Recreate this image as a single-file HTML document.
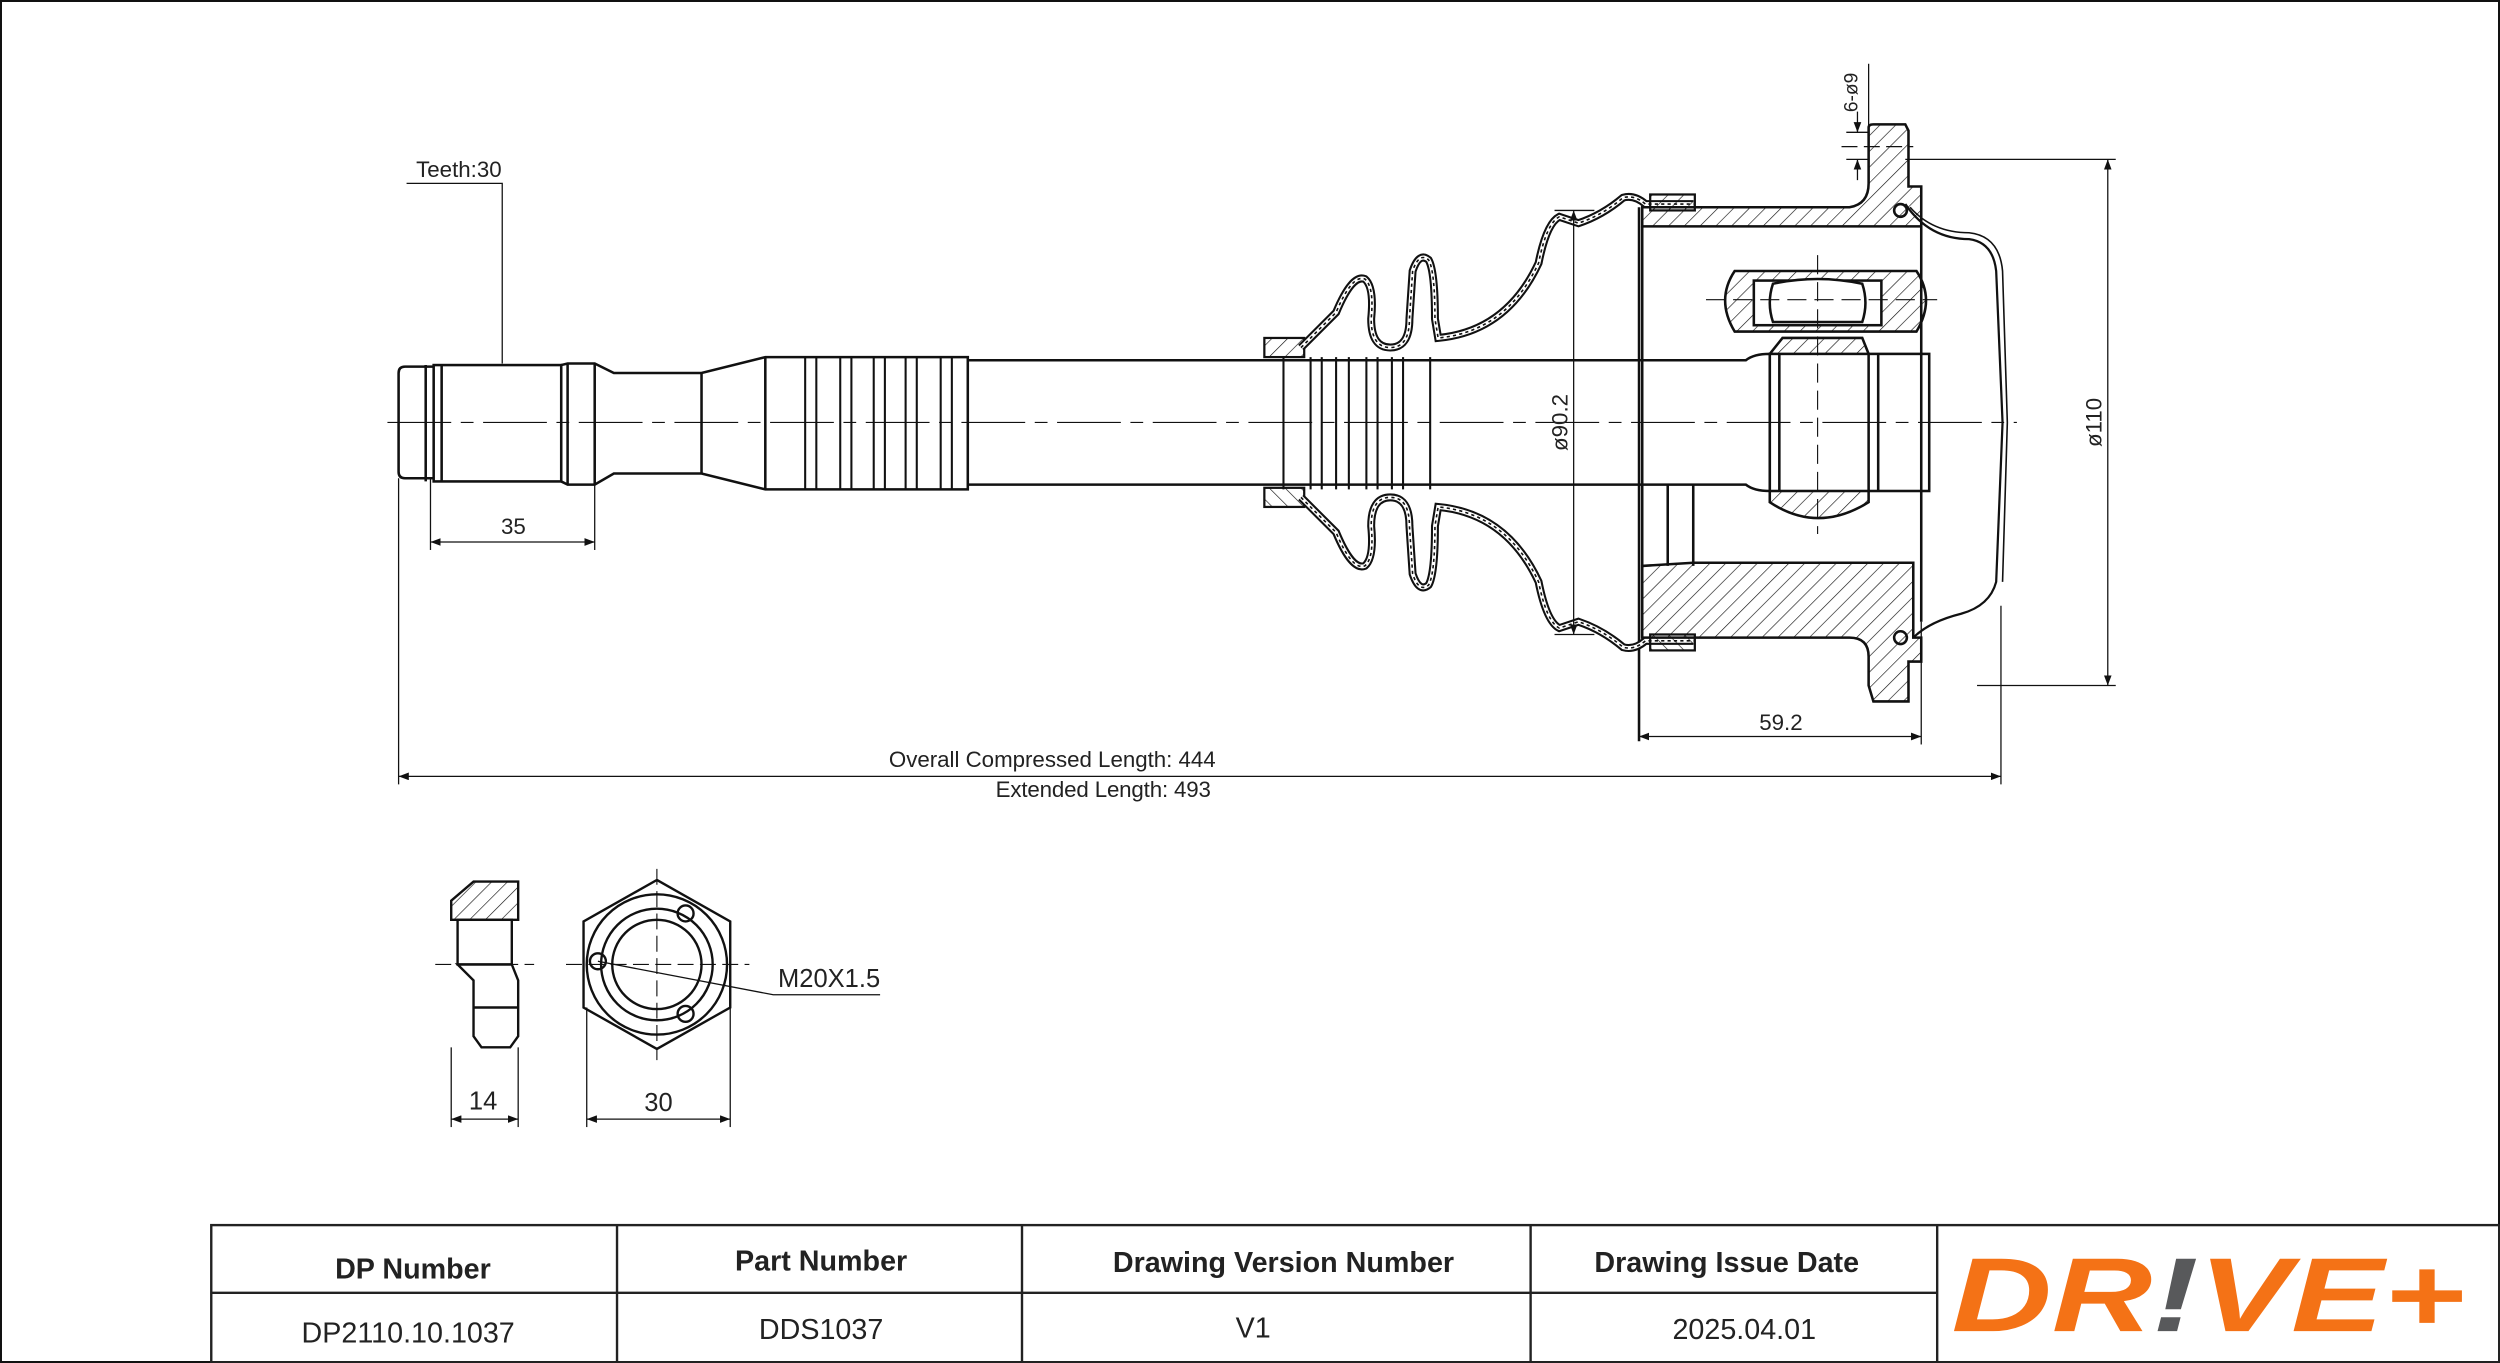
<!DOCTYPE html>
<html><head><meta charset="utf-8"><style>
html,body{margin:0;padding:0;background:#fff;}
svg{display:block;}
text{font-family:"Liberation Sans",sans-serif;fill:#222;}
</style></head><body>
<svg width="2500" height="1363" viewBox="0 0 1568 855" preserveAspectRatio="none" xmlns="http://www.w3.org/2000/svg">
<defs>
<pattern id="h" patternUnits="userSpaceOnUse" width="7" height="7" patternTransform="rotate(45)"><line x1="0" y1="0" x2="0" y2="7" stroke="#111" stroke-width="0.8"/></pattern>
<marker id="a" markerWidth="8" markerHeight="6" refX="8" refY="3" orient="auto-start-reverse"><path d="M0,0 L8,3 L0,6z" fill="#111"/></marker>
</defs>
<rect x="0.5" y="0.5" width="1567" height="854" fill="none" stroke="#111" stroke-width="1.5"/>

<g fill="none" stroke="#111" stroke-width="1.6">
<line x1="243" y1="265" x2="1265" y2="265" stroke-width="0.7" stroke-dasharray="40,6,8,6"/>
<path d="M272,230 L254,230 Q250,230 250,234 L250,296 Q250,300 254,300 L272,300"/>
<rect x="272" y="229" width="80" height="73"/>
<line x1="267" y1="229" x2="267" y2="302"/><line x1="277" y1="229" x2="277" y2="302"/>
<path d="M352,229 L356,228 L373,228 L385,234 L440,234 L480,224 L607,224 L607,307 L480,307 L440,297 L385,297 L373,304 L356,304 L352,302"/>
<line x1="356" y1="228" x2="356" y2="304"/><line x1="373" y1="228" x2="373" y2="304"/>
<line x1="440" y1="234" x2="440" y2="297"/><line x1="480" y1="224" x2="480" y2="307"/>
<g stroke-width="1.3">
<line x1="505" y1="224" x2="505" y2="307"/><line x1="512" y1="224" x2="512" y2="307"/>
<line x1="527" y1="224" x2="527" y2="307"/><line x1="534" y1="224" x2="534" y2="307"/>
<line x1="548" y1="224" x2="548" y2="307"/><line x1="555" y1="224" x2="555" y2="307"/>
<line x1="568" y1="224" x2="568" y2="307"/><line x1="575" y1="224" x2="575" y2="307"/>
<line x1="590" y1="224" x2="590" y2="307"/><line x1="597" y1="224" x2="597" y2="307"/>
</g>
<path d="M607,226 L1095,226 Q1100,222 1110,222 L1110,308 Q1100,308 1095,304 L607,304"/>
<g stroke-width="1.3">
<line x1="805" y1="224" x2="805" y2="307"/><line x1="822" y1="224" x2="822" y2="307"/><line x1="829" y1="224" x2="829" y2="307"/>
<line x1="838" y1="224" x2="838" y2="307"/><line x1="846" y1="224" x2="846" y2="307"/>
<line x1="857" y1="224" x2="857" y2="307"/><line x1="864" y1="224" x2="864" y2="307"/>
<line x1="873" y1="224" x2="873" y2="307"/><line x1="880" y1="224" x2="880" y2="307"/>
<line x1="897" y1="224" x2="897" y2="307"/>
</g>
<rect x="1110" y="222" width="100" height="86"/>
<line x1="1116" y1="222" x2="1116" y2="308"/><line x1="1172" y1="222" x2="1172" y2="308"/><line x1="1178" y1="222" x2="1178" y2="308"/>
<path d="M1110,308 L1110,315 Q1140,335 1172,315 L1172,308" fill="url(#h)"/>
<path d="M1110,222 L1118,212 L1168,212 L1172,222" fill="url(#h)"/>
<path d="M1088,170 L1202,170 Q1214,188 1202,208 L1088,208 Q1076,188 1088,170Z" fill="url(#h)"/>
<rect x="1100" y="176" width="80" height="28" fill="#fff"/>
<path d="M1112,178 Q1140,172 1168,178 Q1172,190 1168,202 L1112,202 Q1108,190 1112,178Z" fill="#fff"/>
<line x1="1140" y1="160" x2="1140" y2="335" stroke-width="0.7" stroke-dasharray="12,5"/>
<line x1="1070" y1="188" x2="1215" y2="188" stroke-width="0.7" stroke-dasharray="12,5"/>
<path d="M1030,130 L1160,130 Q1172,128 1172,115 L1172,80 Q1172,78 1175,78 L1195,78 L1197,82 L1197,117 L1205,117 L1205,142 L1030,142Z" fill="url(#h)"/>
<path d="M1030,355 L1062,353 L1200,353 L1200,400 L1205,400 L1205,415 L1197,415 L1197,440 L1175,440 L1172,430 L1172,412 Q1172,400 1160,400 L1030,400Z" fill="url(#h)"/>
<line x1="1028" y1="130" x2="1028" y2="465"/>
<line x1="1030" y1="142" x2="1030" y2="400"/>
<line x1="1046" y1="304" x2="1046" y2="355"/><line x1="1062" y1="304" x2="1062" y2="355"/>
<line x1="1205" y1="142" x2="1205" y2="390"/>
<path d="M1195,128 Q1210,150 1235,150 Q1250,152 1252,170 L1256,265 L1252,365 Q1248,380 1230,385 Q1210,390 1200,400" stroke-width="1.4"/>
<path d="M1198,130 Q1212,146 1235,146 Q1254,148 1256,170 L1259,265 L1256,365" stroke-width="1"/>
<circle cx="1192" cy="132" r="4"/><circle cx="1192" cy="400" r="4"/>
<g id="boot">
<rect x="793" y="212" width="25" height="12" fill="url(#h)" stroke-width="1.4"/>
<path id="bp" d="M816,218 L838,196 Q848,172 856,175 Q862,180 860,200 Q860,218 872,218 Q884,218 884,200 L886,170 Q890,158 896,163 Q900,170 900,200 L902,212 Q945,208 965,165 Q970,140 978,136 L990,140 Q1005,135 1018,124 Q1025,122 1032,128 L1062,128" stroke-width="5"/>
<path d="M816,218 L838,196 Q848,172 856,175 Q862,180 860,200 Q860,218 872,218 Q884,218 884,200 L886,170 Q890,158 896,163 Q900,170 900,200 L902,212 Q945,208 965,165 Q970,140 978,136 L990,140 Q1005,135 1018,124 Q1025,122 1032,128 L1062,128" stroke="#fff" stroke-width="2.4"/>
<path d="M816,218 L838,196 Q848,172 856,175 Q862,180 860,200 Q860,218 872,218 Q884,218 884,200 L886,170 Q890,158 896,163 Q900,170 900,200 L902,212 Q945,208 965,165 Q970,140 978,136 L990,140 Q1005,135 1018,124 Q1025,122 1032,128 L1062,128" stroke-width="1" stroke-dasharray="2,2"/>
<rect x="1035" y="122" width="28" height="10" fill="url(#h)" stroke-width="1.4"/>
</g>
<use href="#boot" transform="translate(0,530) scale(1,-1)"/>
<g stroke-width="0.8">
<polyline points="255,115 315,115 315,228"/>
<line x1="270" y1="300" x2="270" y2="345"/><line x1="373" y1="304" x2="373" y2="345"/>
<line x1="270" y1="340" x2="373" y2="340" marker-start="url(#a)" marker-end="url(#a)"/>
<line x1="250" y1="300" x2="250" y2="492"/><line x1="1255" y1="380" x2="1255" y2="492"/>
<line x1="250" y1="487" x2="1255" y2="487" marker-start="url(#a)" marker-end="url(#a)"/>
<line x1="1205" y1="390" x2="1205" y2="467"/>
<line x1="1028" y1="462" x2="1205" y2="462" marker-start="url(#a)" marker-end="url(#a)"/>
<line x1="987" y1="132" x2="987" y2="398" marker-start="url(#a)" marker-end="url(#a)"/>
<line x1="975" y1="132" x2="1000" y2="132"/><line x1="975" y1="398" x2="1000" y2="398"/>
<line x1="1195" y1="100" x2="1327" y2="100"/><line x1="1240" y1="430" x2="1327" y2="430"/>
<line x1="1322" y1="100" x2="1322" y2="430" marker-start="url(#a)" marker-end="url(#a)"/>
<line x1="1172" y1="40" x2="1172" y2="102"/>
<line x1="1158" y1="83" x2="1172" y2="83"/><line x1="1158" y1="100" x2="1172" y2="100"/>
<line x1="1165" y1="70" x2="1165" y2="83" marker-end="url(#a)"/><line x1="1165" y1="113" x2="1165" y2="100" marker-end="url(#a)"/>
<line x1="1155" y1="92" x2="1200" y2="92" stroke-dasharray="10,4"/>
</g>
</g>
<g font-size="14">
<text x="261" y="111">Teeth:30</text>
<text x="322" y="335" text-anchor="middle">35</text>
<text x="1117" y="458" text-anchor="middle">59.2</text>
<text x="660" y="481" text-anchor="middle" textLength="205">Overall Compressed Length: 444</text>
<text x="692" y="500" text-anchor="middle" textLength="135">Extended Length: 493</text>
<text transform="translate(983,265) rotate(-90)" text-anchor="middle">ø90.2</text>
<text transform="translate(1318,265) rotate(-90)" text-anchor="middle">ø110</text>
<text transform="translate(1165,58) rotate(-90)" text-anchor="middle" font-size="12">6-ø9</text>
<text x="488" y="619" font-size="16">M20X1.5</text>
<text x="303" y="696" text-anchor="middle" font-size="16">14</text>
<text x="413" y="697" text-anchor="middle" font-size="16">30</text>
</g>
<g fill="none" stroke="#111" stroke-width="1.5">
<path d="M283,565 L297,553 L325,553 L325,577 L283,577Z" fill="url(#h)"/>
<rect x="287" y="577" width="34" height="28"/>
<path d="M287,605 L321,605 L325,615 L325,650 L320,657 L302,657 L297,650 L297,615Z"/>
<line x1="297" y1="632" x2="325" y2="632"/>
<line x1="273" y1="605" x2="335" y2="605" stroke-width="0.7" stroke-dasharray="10,4"/>
<polygon points="412,552 458,578 458,632 412,658 366,632 366,578"/>
<circle cx="412" cy="605" r="44"/><circle cx="412" cy="605" r="35"/><circle cx="412" cy="605" r="28"/>
<circle cx="430" cy="573" r="5"/><circle cx="375" cy="603" r="5"/><circle cx="430" cy="636" r="5"/>
<line x1="355" y1="605" x2="470" y2="605" stroke-width="0.7" stroke-dasharray="10,4"/>
<line x1="412" y1="545" x2="412" y2="665" stroke-width="0.7" stroke-dasharray="10,4"/>
<polyline points="375,603 485,624 552,624" stroke-width="0.8"/>
<g stroke-width="0.8">
<line x1="283" y1="657" x2="283" y2="707"/><line x1="325" y1="657" x2="325" y2="707"/>
<line x1="283" y1="702" x2="325" y2="702" marker-start="url(#a)" marker-end="url(#a)"/>
<line x1="368" y1="632" x2="368" y2="707"/><line x1="458" y1="632" x2="458" y2="707"/>
<line x1="368" y1="702" x2="458" y2="702" marker-start="url(#a)" marker-end="url(#a)"/>
</g>
</g>
<g fill="none" stroke="#222" stroke-width="1.5">
<rect x="132.5" y="768.5" width="1435" height="86"/>
<line x1="132" y1="811" x2="1215" y2="811"/>
<line x1="387" y1="768" x2="387" y2="855"/><line x1="641" y1="768" x2="641" y2="855"/>
<line x1="960" y1="768" x2="960" y2="855"/><line x1="1215" y1="768" x2="1215" y2="855"/>
</g>
<g font-size="18" text-anchor="middle">
<text x="259" y="802" font-weight="bold">DP Number</text>
<text x="515" y="797" font-weight="bold">Part Number</text>
<text x="805" y="798" font-weight="bold">Drawing Version Number</text>
<text x="1083" y="798" font-weight="bold">Drawing Issue Date</text>
<text x="256" y="842">DP2110.10.1037</text>
<text x="515" y="840">DDS1037</text>
<text x="786" y="839">V1</text>
<text x="1094" y="840">2025.04.01</text>
</g>
<text x="1224" y="835" font-size="66" font-weight="bold" font-style="italic" textLength="322" lengthAdjust="spacingAndGlyphs" style="fill:#f47216">DR<tspan style="fill:#58595b">!</tspan>VE+</text>
</svg>
</body></html>
